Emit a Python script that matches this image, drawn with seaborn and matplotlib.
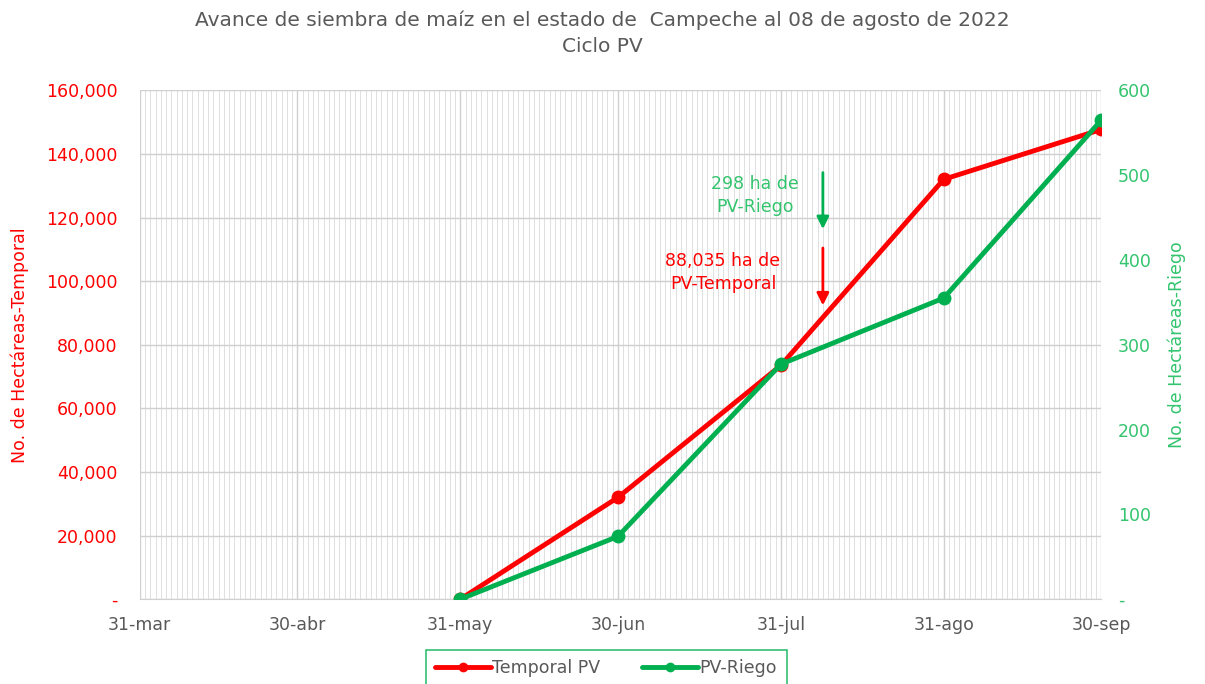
import seaborn as sns
import matplotlib.pyplot as plt
import matplotlib.dates as mdates
from matplotlib.ticker import FixedLocator
from matplotlib.lines import Line2D
import pandas as pd

# data
fechas = ['2022-05-31', '2022-06-30', '2022-07-31', '2022-08-31', '2022-09-30']
temporal_pv = [0, 32000, 73500, 132000, 147700]
pv_riego = [0, 74, 277, 355, 565]

x_ticks = ['2022-03-31', '2022-04-30', '2022-05-31', '2022-06-30',
           '2022-07-31', '2022-08-31', '2022-09-30']
x_labels = ['31-mar', '30-abr', '31-may', '30-jun', '31-jul', '31-ago', '30-sep']
left_ticks = [0, 20000, 40000, 60000, 80000, 100000, 120000, 140000, 160000]
left_labels = ['-', '20,000', '40,000', '60,000', '80,000', '100,000',
               '120,000', '140,000', '160,000']
right_ticks = [0, 100, 200, 300, 400, 500, 600]
right_labels = ['-', '100', '200', '300', '400', '500', '600']

fecha_corte = '2022-08-08'
nota_riego = '298 ha de\nPV-Riego'
nota_temporal = '88,035 ha de\nPV-Temporal'

RED = '#FF0000'
GREEN = '#00B050'
GREEN_TXT = '#33C46E'
GREY = '#595959'

sns.set_style('white')
plt.rcParams['font.family'] = ['DejaVu Sans']

df = pd.DataFrame({'fecha': pd.to_datetime(fechas),
                   'temporal': temporal_pv, 'riego': pv_riego})

fig = plt.figure(figsize=(12.05, 6.84), dpi=100)
ax = fig.add_axes([0.116, 0.124, 0.798, 0.744])
ax2 = ax.twinx()

sns.lineplot(data=df, x='fecha', y='temporal', ax=ax, color=RED, linewidth=3.5,
             marker='o', markersize=10, markeredgewidth=0, legend=False)
sns.lineplot(data=df, x='fecha', y='riego', ax=ax2, color=GREEN, linewidth=3.5,
             marker='o', markersize=10, markeredgewidth=0, legend=False)

xmin, xmax = pd.Timestamp(x_ticks[0]), pd.Timestamp(x_ticks[-1])
ax.set_xlim(xmin, xmax)
ax.set_ylim(0, 160000)
ax2.set_ylim(0, 600)

ax.xaxis.set_major_locator(FixedLocator(mdates.date2num(pd.to_datetime(x_ticks))))
ax.set_xticklabels(x_labels)
ax.xaxis.set_minor_locator(mdates.DayLocator())
ax.set_yticks(left_ticks)
ax.set_yticklabels(left_labels)
ax2.set_yticks(right_ticks)
ax2.set_yticklabels(right_labels)

ax.grid(which='major', axis='x', color='#d0d0d0', linewidth=1.0)
ax.grid(which='minor', axis='x', color='#e0e0e0', linewidth=0.7)
ax.grid(which='major', axis='y', color='#cfcfcf', linewidth=1.0)
ax.set_axisbelow(True)

for a in (ax, ax2):
    for s in a.spines.values():
        s.set_visible(False)
ax.spines['bottom'].set_visible(True)
ax.spines['bottom'].set_color('#d0d0d0')

ax.tick_params(axis='x', which='major', colors='#d0d0d0', length=6, width=1,
               labelcolor=GREY, labelsize=12.5, pad=6)
ax.tick_params(axis='x', which='minor', length=0)
ax.tick_params(axis='y', length=0, labelcolor=RED, labelsize=12.5, pad=16)
ax2.tick_params(axis='y', length=0, labelcolor=GREEN_TXT, labelsize=12.5, pad=12)

ax.set_xlabel('')
ax.set_ylabel('No. de Hectáreas-Temporal', color=RED, fontsize=12.5, labelpad=12)
ax2.set_ylabel('No. de Hectáreas-Riego', color=GREEN_TXT, fontsize=12.5, labelpad=12)

fig.suptitle('Avance de siembra de maíz en el estado de  Campeche al 08 de agosto de 2022\nCiclo PV',
             color=GREY, fontsize=14.5, y=0.985, linespacing=1.45)

xc = pd.Timestamp(fecha_corte)
ax.annotate('', xy=(xc, 115500), xytext=(xc, 135000),
            arrowprops=dict(arrowstyle='-|>', color=GREEN, lw=2, mutation_scale=18))
ax.annotate('', xy=(xc, 91500), xytext=(xc, 111300),
            arrowprops=dict(arrowstyle='-|>', color=RED, lw=2, mutation_scale=18))
ax.text(pd.Timestamp('2022-07-26'), 127000, nota_riego, color=GREEN_TXT,
        fontsize=12.5, ha='center', va='center', linespacing=1.35)
ax.text(pd.Timestamp('2022-07-20'), 102800, nota_temporal, color=RED,
        fontsize=12.5, ha='center', va='center', linespacing=1.35)

handles = [Line2D([], [], color=RED, lw=3.5, marker='o', markersize=7, markeredgewidth=0),
           Line2D([], [], color=GREEN, lw=3.5, marker='o', markersize=7, markeredgewidth=0)]
leg = fig.legend(handles, ['Temporal PV', 'PV-Riego'], loc='upper center',
                 bbox_to_anchor=(0.503, 0.050), ncol=2, fontsize=12.5, frameon=True,
                 fancybox=False, handlelength=3.2, handletextpad=0.1, columnspacing=2.4,
                 borderpad=0.55, labelcolor=GREY, borderaxespad=0)
leg.get_frame().set_edgecolor(GREEN)
leg.get_frame().set_linewidth(1.2)

fig.savefig('out.png', dpi=100)
